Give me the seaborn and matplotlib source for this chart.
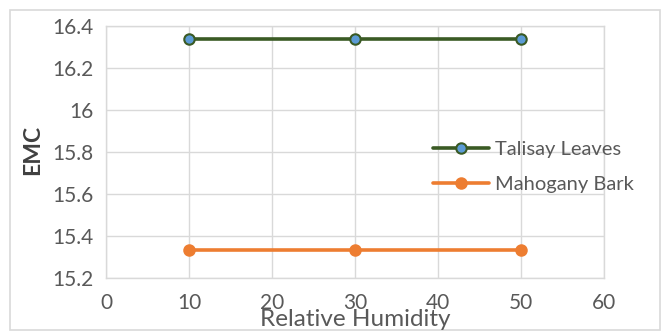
import matplotlib
matplotlib.use("Agg")
import matplotlib.pyplot as plt
from matplotlib.patches import Rectangle
import seaborn as sns
import pandas as pd

relative_humidity = [10, 30, 50]
talisay_leaves = [16.34, 16.34, 16.34]
mahogany_bark = [15.333, 15.333, 15.333]
series_names = ["Talisay Leaves", "Mahogany Bark"]
x_ticks = [0, 10, 20, 30, 40, 50, 60]
y_ticks = [15.2, 15.4, 15.6, 15.8, 16.0, 16.2, 16.4]
y_tick_labels = ["15.2", "15.4", "15.6", "15.8", "16", "16.2", "16.4"]

sns.set_theme(style="white")
plt.rcParams["font.family"] = ["Lato", "DejaVu Sans"]

df = pd.DataFrame({
    "Relative Humidity": relative_humidity * 2,
    "EMC": talisay_leaves + mahogany_bark,
    "Series": [series_names[0]] * 3 + [series_names[1]] * 3,
})

fig = plt.figure(figsize=(6.61, 3.33), dpi=100)
fig.patches.append(Rectangle((10 / 661, 3 / 333), 650 / 661, 320 / 333,
                             transform=fig.transFigure, fill=False,
                             edgecolor="#D9D9D9", linewidth=1.2))
ax = fig.add_axes([106 / 661, 1 - 278 / 333, 498 / 661, 252 / 333])

line_colors = {series_names[0]: "#3A5A24", series_names[1]: "#ED7D31"}
face_colors = {series_names[0]: "#5B9BD5", series_names[1]: "#ED7D31"}

for name in series_names:
    sub = df[df["Series"] == name]
    sns.lineplot(data=sub, x="Relative Humidity", y="EMC", ax=ax,
                 color=line_colors[name], linewidth=2.6, marker="o",
                 markersize=7.5, markerfacecolor=face_colors[name],
                 markeredgecolor=line_colors[name], markeredgewidth=1.5,
                 label=name, zorder=3)

ax.set_xlim(0, 60)
ax.set_ylim(15.2, 16.4)
ax.set_xticks(x_ticks)
ax.set_yticks(y_ticks)
ax.set_yticklabels(y_tick_labels)
ax.grid(True, color="#D9D9D9", linewidth=1)
for s in ax.spines.values():
    s.set_color("#D9D9D9")
    s.set_linewidth(1)
ax.tick_params(axis="both", length=0, labelsize=15, labelcolor="#595959")
ax.tick_params(axis="x", pad=11)
ax.tick_params(axis="y", pad=9)

ax.set_xlabel("")
ax.set_ylabel("")
fig.text(355 / 661, 1 - 319 / 333, "Relative Humidity", ha="center",
         va="center", fontsize=17.5, color="#595959")
fig.text(33 / 661, 1 - 150 / 333, "EMC", ha="center", va="center",
         rotation=90, fontsize=16.5, color="#404040", fontweight="bold")

leg = ax.legend(loc="center left", bbox_to_anchor=(433 / 661, 1 - 167 / 333),
                bbox_transform=fig.transFigure, frameon=False, fontsize=14.5,
                borderpad=0, borderaxespad=0,
                handlelength=2.8, handletextpad=0.28, labelspacing=0.85,
                labelcolor="#595959")

fig.savefig("out.png", dpi=100)
